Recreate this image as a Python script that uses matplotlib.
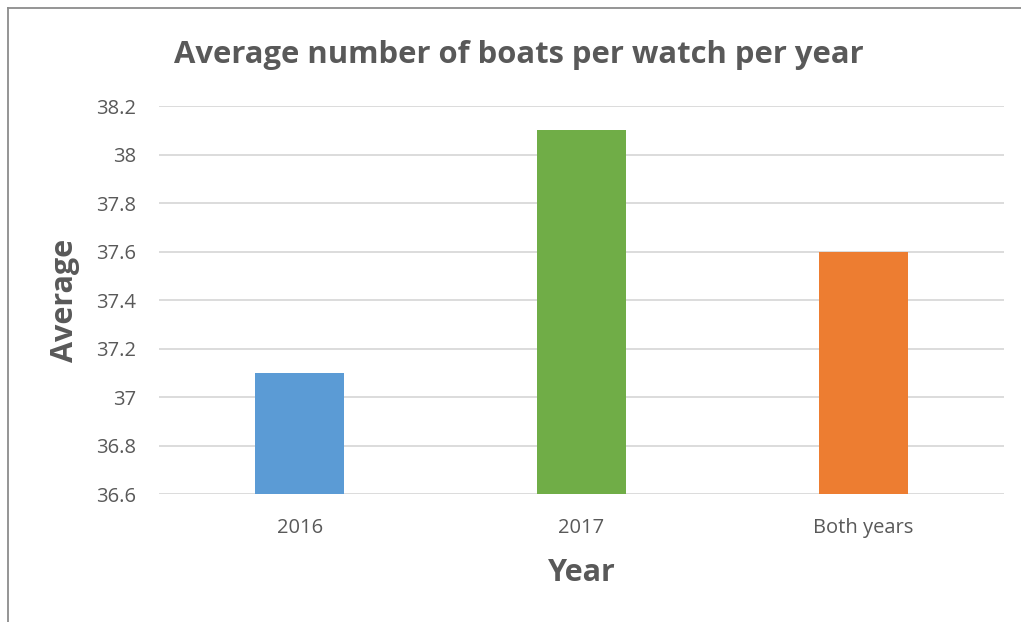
import matplotlib
matplotlib.use("Agg")
import matplotlib.pyplot as plt
from matplotlib.lines import Line2D

categories = ["2016", "2017", "Both years"]
averages = [37.1, 38.1, 37.6]
bar_colors = ["#5B9BD5", "#70AD47", "#ED7D31"]
y_ticks = [36.6, 36.8, 37.0, 37.2, 37.4, 37.6, 37.8, 38.0, 38.2]
y_tick_labels = ["36.6", "36.8", "37", "37.2", "37.4", "37.6", "37.8", "38", "38.2"]

W, H = 1021, 622
text_color = "#595959"
font = "Open Sans"

fig = plt.figure(figsize=(W / 100, H / 100), dpi=100)
ax = fig.add_axes([159 / W, 1 - 494 / H, (1004 - 159) / W, (494 - 106) / H])

x = range(len(categories))
ax.bar(x, [v - y_ticks[0] for v in averages], bottom=y_ticks[0], width=0.317,
       color=bar_colors, zorder=3)

ax.set_xlim(-0.5, len(categories) - 0.5)
ax.set_ylim(y_ticks[0], y_ticks[-1])
ax.set_yticks(y_ticks)
ax.set_yticklabels(y_tick_labels, fontsize=14.5, color=text_color, family=font)
ax.set_xticks(list(x))
ax.set_xticklabels(categories, fontsize=14.5, color=text_color, family=font)
ax.tick_params(axis="both", length=0)
ax.tick_params(axis="y", pad=16.5)
ax.tick_params(axis="x", pad=17)
ax.grid(axis="y", color="#D9D9D9", linewidth=1.3, zorder=0)
for s in ax.spines.values():
    s.set_visible(False)

fig.text(519 / W, 1 - 55 / H, "Average number of boats per watch per year",
         ha="center", va="center", fontsize=22.3, fontweight="bold",
         color=text_color, family=font)
fig.text(65 / W, 1 - 300 / H, "Average", ha="center", va="center",
         rotation=90, fontsize=22, fontweight="bold", color=text_color, family=font)
fig.text(582 / W, 1 - 573 / H, "Year", ha="center", va="center",
         fontsize=22, fontweight="bold", color=text_color, family=font)

# chart frame
fig.add_artist(Line2D([7.5 / W, 7.5 / W], [0, 1 - 7.5 / H], transform=fig.transFigure,
                      color="#8C8C8C", linewidth=1.3))
fig.add_artist(Line2D([7.5 / W, 1], [1 - 7.5 / H, 1 - 7.5 / H], transform=fig.transFigure,
                      color="#8C8C8C", linewidth=1.3))

fig.savefig("out.png", dpi=100)
